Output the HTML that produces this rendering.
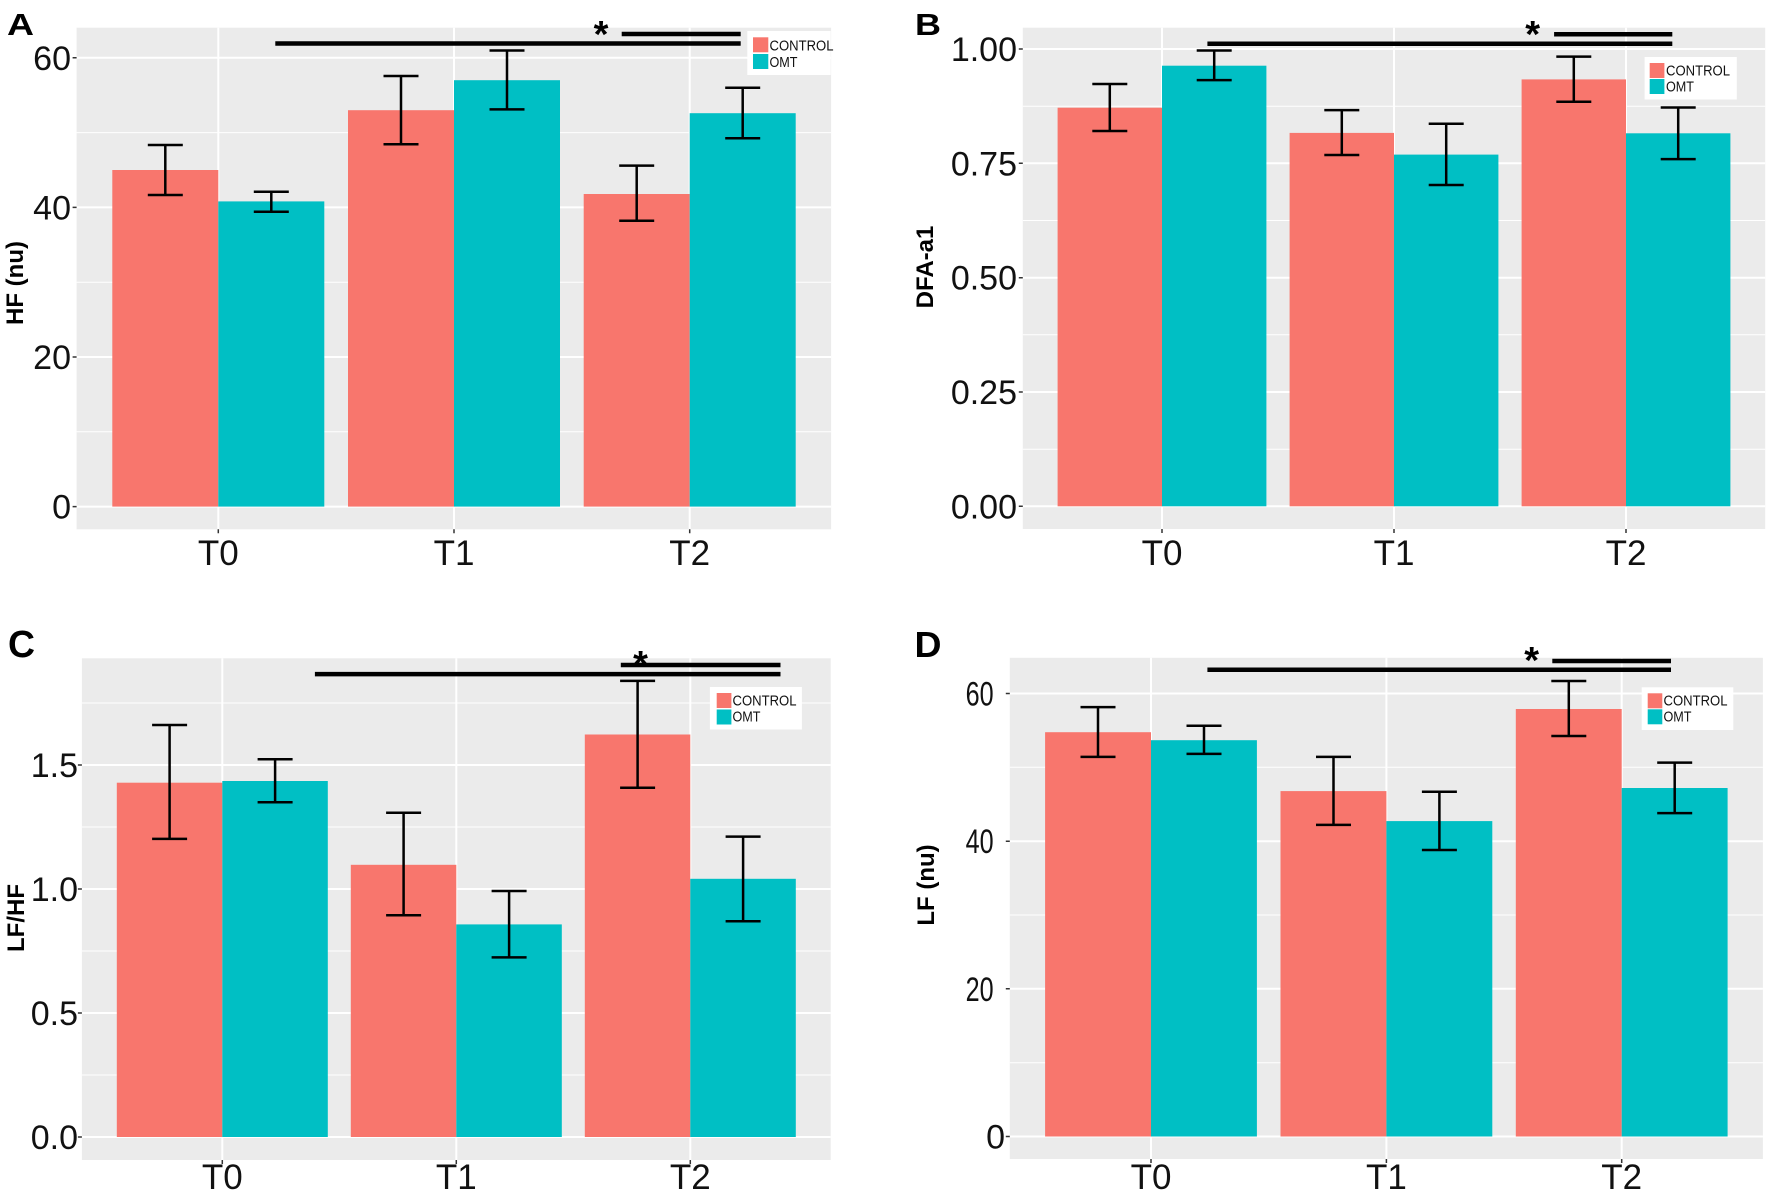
<!DOCTYPE html>
<html><head><meta charset="utf-8"><style>
html,body{margin:0;padding:0;background:#fff;}
svg{display:block;}
text{font-family:"Liberation Sans",Arial,sans-serif;}
.bg{fill:#EBEBEB}
.g{stroke:#fff;stroke-width:2}
.m{stroke:#fff;stroke-width:1}
.c{fill:#F8766D}
.o{fill:#00BFC4}
.e{stroke:#000;stroke-width:2.5;fill:none}
.s{stroke:#000;stroke-width:4.5}
.t{stroke:#333;stroke-width:1.5}
.tl{font-size:34px;fill:#111;text-anchor:end}
.xl{font-size:35px;fill:#111;text-anchor:middle}
.yt{font-size:24px;font-weight:bold;fill:#000;text-anchor:middle}
.lt{font-size:15px;fill:#111}
.st{font-size:38px;font-weight:bold;fill:#000;text-anchor:middle}
.pl{font-size:31px;font-weight:bold;fill:#000}
</style></head><body>
<svg width="1770" height="1194" viewBox="0 0 1770 1194" xmlns="http://www.w3.org/2000/svg">
<rect width="1770" height="1194" fill="#fff"/>

<!-- ===== Panel A ===== -->
<rect class="bg" x="76.6" y="27.7" width="754.5" height="501.6"/>
<path class="m" d="M76.6 431.8H831.1M76.6 282.2H831.1M76.6 132.6H831.1"/>
<path class="g" d="M76.6 506.6H831.1M76.6 357H831.1M76.6 207.4H831.1M76.6 57.8H831.1M218.3 27.7V529.3M454 27.7V529.3M689.7 27.7V529.3"/>
<rect class="c" x="112.3" y="170" width="106" height="336.6"/>
<rect class="o" x="218.3" y="201.4" width="106" height="305.2"/>
<rect class="c" x="348" y="110.2" width="106" height="396.4"/>
<rect class="o" x="454" y="80.2" width="106" height="426.4"/>
<rect class="c" x="583.7" y="194" width="106" height="312.6"/>
<rect class="o" x="689.7" y="113.2" width="106" height="393.4"/>
<path class="e" d="M147.8 145H182.8M165.3 145V195M147.8 195H182.8"/>
<path class="e" d="M253.8 191.7H288.8M271.3 191.7V211.7M253.8 211.7H288.8"/>
<path class="e" d="M383.5 76H418.5M401 76V144.3M383.5 144.3H418.5"/>
<path class="e" d="M489.5 50.5H524.5M507 50.5V109.4M489.5 109.4H524.5"/>
<path class="e" d="M619.2 165.6H654.2M636.7 165.6V220.7M619.2 220.7H654.2"/>
<path class="e" d="M725.2 87.7H760.2M742.7 87.7V138.2M725.2 138.2H760.2"/>
<path class="t" d="M72.6 506.6H76.6M72.6 357H76.6M72.6 207.4H76.6M72.6 57.8H76.6M218.3 529.3V533.3M454 529.3V533.3M689.7 529.3V533.3"/>
<text class="tl" x="71" y="518.6">0</text>
<text class="tl" x="71" y="369">20</text>
<text class="tl" x="71" y="219.4">40</text>
<text class="tl" x="71" y="69.8">60</text>
<text class="xl" x="218.3" y="565">T0</text>
<text class="xl" x="454" y="565">T1</text>
<text class="xl" x="689.7" y="565">T2</text>
<text class="yt" transform="translate(23,283) rotate(-90)">HF (nu)</text>
<text class="pl" x="7" y="35" textLength="27" lengthAdjust="spacingAndGlyphs">A</text>
<path class="s" d="M275.3 43.5H740.7M621.7 34H740.7"/>
<text class="st" x="601" y="47">*</text>
<rect x="747.3" y="31" width="83.4" height="44" fill="#fff"/>
<rect class="c" x="753" y="37.3" width="15.3" height="15"/>
<rect class="o" x="753" y="54" width="15.3" height="15"/>
<text class="lt" x="769.5" y="50.5" textLength="64" lengthAdjust="spacingAndGlyphs">CONTROL</text>
<text class="lt" x="769.5" y="67" textLength="28" lengthAdjust="spacingAndGlyphs">OMT</text>

<!-- ===== Panel B ===== -->
<rect class="bg" x="1022.8" y="27.7" width="742.4" height="501.3"/>
<path class="m" d="M1022.8 449.2H1765.2M1022.8 334.8H1765.2M1022.8 220.5H1765.2M1022.8 106.2H1765.2"/>
<path class="g" d="M1022.8 506.3H1765.2M1022.8 392H1765.2M1022.8 277.7H1765.2M1022.8 163.3H1765.2M1022.8 49H1765.2M1162 27.7V529M1394 27.7V529M1626 27.7V529"/>
<rect class="c" x="1057.6" y="107.7" width="104.4" height="398.6"/>
<rect class="o" x="1162" y="65.7" width="104.4" height="440.6"/>
<rect class="c" x="1289.6" y="132.9" width="104.4" height="373.4"/>
<rect class="o" x="1394" y="154.6" width="104.4" height="351.7"/>
<rect class="c" x="1521.6" y="79.4" width="104.4" height="426.9"/>
<rect class="o" x="1626" y="133.3" width="104.4" height="373"/>
<path class="e" d="M1092.3 84H1127.3M1109.8 84V131M1092.3 131H1127.3"/>
<path class="e" d="M1196.7 50.5H1231.7M1214.2 50.5V80.1M1196.7 80.1H1231.7"/>
<path class="e" d="M1324.3 110.1H1359.3M1341.8 110.1V155M1324.3 155H1359.3"/>
<path class="e" d="M1428.7 123.8H1463.7M1446.2 123.8V185M1428.7 185H1463.7"/>
<path class="e" d="M1556.3 56.6H1591.3M1573.8 56.6V101.8M1556.3 101.8H1591.3"/>
<path class="e" d="M1660.7 107.5H1695.7M1678.2 107.5V159.1M1660.7 159.1H1695.7"/>
<path class="t" d="M1018.8 506.3H1022.8M1018.8 392H1022.8M1018.8 277.7H1022.8M1018.8 163.3H1022.8M1018.8 49H1022.8M1162 529V533M1394 529V533M1626 529V533"/>
<text class="tl" x="1017" y="518.3">0.00</text>
<text class="tl" x="1017" y="404">0.25</text>
<text class="tl" x="1017" y="289.7">0.50</text>
<text class="tl" x="1017" y="175.3">0.75</text>
<text class="tl" x="1017" y="61">1.00</text>
<text class="xl" x="1162" y="565">T0</text>
<text class="xl" x="1394" y="565">T1</text>
<text class="xl" x="1626" y="565">T2</text>
<text class="yt" transform="translate(933,267) rotate(-90)">DFA-a1</text>
<text class="pl" x="915" y="35" textLength="26" lengthAdjust="spacingAndGlyphs">B</text>
<path class="s" d="M1207.4 43.7H1672.3M1554.1 34.2H1672.3"/>
<text class="st" x="1532.6" y="47">*</text>
<rect x="1644.6" y="57" width="92.2" height="42.5" fill="#fff"/>
<rect class="c" x="1649.7" y="63" width="14.7" height="15"/>
<rect class="o" x="1649.7" y="79" width="14.7" height="15"/>
<text class="lt" x="1666" y="75.5" textLength="64" lengthAdjust="spacingAndGlyphs">CONTROL</text>
<text class="lt" x="1666" y="91.5" textLength="28" lengthAdjust="spacingAndGlyphs">OMT</text>

<!-- ===== Panel C ===== -->
<rect class="bg" x="81.9" y="658.3" width="748.8" height="501.7"/>
<path class="m" d="M81.9 1075H830.7M81.9 951H830.7M81.9 827H830.7M81.9 703H830.7"/>
<path class="g" d="M81.9 1137H830.7M81.9 1013H830.7M81.9 889H830.7M81.9 765H830.7M222.3 658.3V1160M456.3 658.3V1160M690.3 658.3V1160"/>
<rect class="c" x="116.8" y="782.7" width="105.5" height="354.3"/>
<rect class="o" x="222.3" y="781" width="105.5" height="356"/>
<rect class="c" x="350.8" y="864.8" width="105.5" height="272.2"/>
<rect class="o" x="456.3" y="924.4" width="105.5" height="212.6"/>
<rect class="c" x="584.8" y="734.5" width="105.5" height="402.5"/>
<rect class="o" x="690.3" y="878.8" width="105.5" height="258.2"/>
<path class="e" d="M152.1 725H187.1M169.6 725V838.9M152.1 838.9H187.1"/>
<path class="e" d="M257.6 759.3H292.6M275.1 759.3V802.3M257.6 802.3H292.6"/>
<path class="e" d="M386.1 812.7H421.1M403.6 812.7V915.3M386.1 915.3H421.1"/>
<path class="e" d="M491.6 891H526.6M509.1 891V957.4M491.6 957.4H526.6"/>
<path class="e" d="M620.1 680.9H655.1M637.6 680.9V787.7M620.1 787.7H655.1"/>
<path class="e" d="M725.6 836.6H760.6M743.1 836.6V921.3M725.6 921.3H760.6"/>
<path class="t" d="M77.9 1137H81.9M77.9 1013H81.9M77.9 889H81.9M77.9 765H81.9M222.3 1160V1164M456.3 1160V1164M690.3 1160V1164"/>
<text class="tl" x="78" y="1149">0.0</text>
<text class="tl" x="78" y="1025">0.5</text>
<text class="tl" x="78" y="901">1.0</text>
<text class="tl" x="78" y="777">1.5</text>
<text class="xl" x="222.3" y="1189">T0</text>
<text class="xl" x="456.3" y="1189">T1</text>
<text class="xl" x="690.3" y="1189">T2</text>
<text class="yt" transform="translate(24,918) rotate(-90)">LF/HF</text>
<text class="pl" x="8" y="657" style="font-size:38px" textLength="27" lengthAdjust="spacingAndGlyphs">C</text>
<path class="s" d="M314.9 674.1H780.5M620.8 665H780.5"/>
<text class="st" x="640.5" y="677">*</text>
<rect x="709.9" y="687" width="92" height="42.5" fill="#fff"/>
<rect class="c" x="716.7" y="693" width="14.7" height="15"/>
<rect class="o" x="716.7" y="709.5" width="14.7" height="15"/>
<text class="lt" x="732.5" y="705.5" textLength="64" lengthAdjust="spacingAndGlyphs">CONTROL</text>
<text class="lt" x="732.5" y="721.7" textLength="28" lengthAdjust="spacingAndGlyphs">OMT</text>

<!-- ===== Panel D ===== -->
<rect class="bg" x="1009.8" y="657.8" width="753.1" height="501.2"/>
<path class="m" d="M1009.8 1062.7H1762.9M1009.8 915H1762.9M1009.8 767.3H1762.9"/>
<path class="g" d="M1009.8 1136.5H1762.9M1009.8 988.8H1762.9M1009.8 841.2H1762.9M1009.8 693.5H1762.9M1151 657.8V1159M1386.4 657.8V1159M1621.7 657.8V1159"/>
<rect class="c" x="1045.1" y="732.2" width="105.9" height="404.3"/>
<rect class="o" x="1151" y="740.2" width="105.9" height="396.3"/>
<rect class="c" x="1280.5" y="791.1" width="105.9" height="345.4"/>
<rect class="o" x="1386.4" y="821.1" width="105.9" height="315.4"/>
<rect class="c" x="1515.8" y="709" width="105.9" height="427.5"/>
<rect class="o" x="1621.7" y="788" width="105.9" height="348.5"/>
<path class="e" d="M1080.5 707.1H1115.5M1098 707.1V756.9M1080.5 756.9H1115.5"/>
<path class="e" d="M1186.5 725.7H1221.5M1204 725.7V753.9M1186.5 753.9H1221.5"/>
<path class="e" d="M1316 756.9H1351M1333.5 756.9V824.9M1316 824.9H1351"/>
<path class="e" d="M1421.9 791.8H1456.9M1439.4 791.8V850M1421.9 850H1456.9"/>
<path class="e" d="M1551.3 681H1586.3M1568.8 681V736M1551.3 736H1586.3"/>
<path class="e" d="M1657.2 762.6H1692.2M1674.7 762.6V813.1M1657.2 813.1H1692.2"/>
<path class="t" d="M1005.8 1136.5H1009.8M1005.8 988.8H1009.8M1005.8 841.2H1009.8M1005.8 693.5H1009.8M1151 1159V1163M1386.4 1159V1163M1621.7 1159V1163"/>
<text class="tl" x="1005" y="1148.5">0</text>
<text class="tl" x="993.6" y="1000.8" textLength="28" lengthAdjust="spacingAndGlyphs">20</text>
<text class="tl" x="993.6" y="853.2" textLength="28" lengthAdjust="spacingAndGlyphs">40</text>
<text class="tl" x="993.6" y="705.5" textLength="28" lengthAdjust="spacingAndGlyphs">60</text>
<text class="xl" x="1151" y="1189">T0</text>
<text class="xl" x="1386.4" y="1189">T1</text>
<text class="xl" x="1621.7" y="1189">T2</text>
<text class="yt" transform="translate(934,885) rotate(-90)">LF (nu)</text>
<text class="pl" x="914.5" y="657" style="font-size:36px" textLength="27" lengthAdjust="spacingAndGlyphs">D</text>
<path class="s" d="M1207.4 669.7H1671M1552.3 661H1671"/>
<text class="st" x="1531.7" y="673">*</text>
<rect x="1641.7" y="687.3" width="91.6" height="42.7" fill="#fff"/>
<rect class="c" x="1647.7" y="693.3" width="14.6" height="15"/>
<rect class="o" x="1647.7" y="709.3" width="14.6" height="15"/>
<text class="lt" x="1663.5" y="705.7" textLength="64" lengthAdjust="spacingAndGlyphs">CONTROL</text>
<text class="lt" x="1663.5" y="721.7" textLength="28" lengthAdjust="spacingAndGlyphs">OMT</text>
</svg>
</body></html>
